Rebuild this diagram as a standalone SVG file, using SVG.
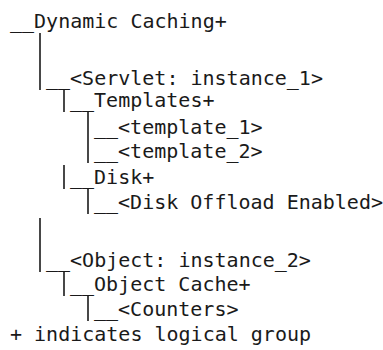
<svg xmlns="http://www.w3.org/2000/svg" width="383" height="350" viewBox="0 0 383 350">
<style>
text{font-family:"DejaVu Sans Mono","Liberation Mono",monospace;font-size:20px;fill:#1a1a1a;white-space:pre}
.c line{stroke:#1a1a1a;stroke-width:1.6}
</style>
<rect width="383" height="350" fill="#fff"/>
<g class="c" id="connectors">
<line x1="40" y1="33" x2="40" y2="90"/>
<line x1="64" y1="90" x2="64" y2="112"/>
<line x1="88" y1="112" x2="88" y2="163"/>
<line x1="64" y1="165" x2="64" y2="189"/>
<line x1="88" y1="189" x2="88" y2="214"/>
<line x1="40" y1="218" x2="40" y2="272"/>
<line x1="64" y1="272" x2="64" y2="296"/>
<line x1="88" y1="296" x2="88" y2="321"/>
</g>
<g id="dynamic-caching"><text x="10" y="28">__Dynamic Caching+</text></g>
<g id="servlet"><text x="46" y="85">__&lt;Servlet: instance_1&gt;</text></g>
<g id="templates"><text x="70" y="107">__Templates+</text></g>
<g id="template-1"><text x="94" y="134">__&lt;template_1&gt;</text></g>
<g id="template-2"><text x="94" y="158">__&lt;template_2&gt;</text></g>
<g id="disk"><text x="70" y="184">__Disk+</text></g>
<g id="disk-offload"><text x="94" y="209">__&lt;Disk Offload Enabled&gt;</text></g>
<g id="object"><text x="46" y="267">__&lt;Object: instance_2&gt;</text></g>
<g id="object-cache"><text x="70" y="291">__Object Cache+</text></g>
<g id="counters"><text x="94" y="316">__&lt;Counters&gt;</text></g>
<g id="legend"><text x="10" y="341">+ indicates logical group</text></g>
</svg>
